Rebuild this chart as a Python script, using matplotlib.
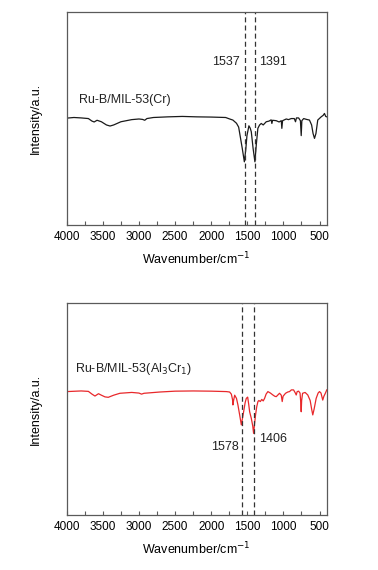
import matplotlib
matplotlib.use("Agg")
import matplotlib.pyplot as plt
from matplotlib.ticker import MultipleLocator

plt.rcParams['font.family'] = ['Liberation Sans', 'DejaVu Sans']

# Top spectrum: Ru-B/MIL-53(Cr)
wn_cr = [4000, 3900, 3800, 3700, 3650, 3620, 3580, 3520, 3450, 3400, 3350, 3250, 3100, 3000,
         2950, 2920, 2890, 2800, 2600, 2400, 2200, 2000, 1800, 1744, 1700, 1650, 1620, 1600,
         1570, 1541, 1520, 1505, 1478, 1460, 1445, 1420, 1395, 1375, 1354, 1330, 1307, 1280,
         1238, 1200, 1170, 1160, 1150, 1100, 1060, 1030, 1022, 1012, 961, 930, 892, 850, 833,
         820, 790, 765, 754, 745, 720, 680, 640, 610, 590, 570, 550, 525, 478, 450, 432, 415, 400]
int_cr = [0.502, 0.505, 0.503, 0.500, 0.488, 0.484, 0.492, 0.485, 0.470, 0.465, 0.470, 0.485,
          0.495, 0.498, 0.496, 0.492, 0.500, 0.505, 0.508, 0.510, 0.508, 0.507, 0.505, 0.498,
          0.493, 0.478, 0.460, 0.420, 0.360, 0.297, 0.360, 0.420, 0.466, 0.455, 0.438, 0.360,
          0.297, 0.380, 0.454, 0.470, 0.477, 0.470, 0.485, 0.488, 0.494, 0.477, 0.492, 0.490,
          0.484, 0.490, 0.454, 0.490, 0.498, 0.495, 0.500, 0.500, 0.485, 0.503, 0.503, 0.490,
          0.420, 0.490, 0.500, 0.496, 0.493, 0.470, 0.430, 0.407, 0.430, 0.493, 0.508, 0.515,
          0.524, 0.510, 0.508]

# Bottom spectrum: Ru-B/MIL-53(Al3Cr1)
wn_alcr = [4000, 3800, 3700, 3650, 3609, 3560, 3520, 3470, 3425, 3350, 3264, 3100, 3000, 2964,
           2930, 2711, 2500, 2250, 2000, 1790, 1745, 1721, 1705, 1699, 1690, 1675, 1650, 1630,
           1605, 1583, 1565, 1551, 1530, 1514, 1495, 1480, 1468, 1445, 1425, 1413, 1400, 1386,
           1370, 1353, 1340, 1320, 1300, 1280, 1261, 1240, 1215, 1180, 1146, 1120, 1100, 1080,
           1054, 1030, 1017, 1005, 971, 940, 916, 890, 860, 835, 823, 810, 790, 770, 760, 754,
           748, 735, 700, 663, 630, 610, 594, 575, 547, 520, 501, 480, 456, 440, 420, 400]
int_alcr = [0.582, 0.585, 0.583, 0.570, 0.561, 0.572, 0.565, 0.557, 0.555, 0.565, 0.574, 0.578,
            0.575, 0.570, 0.574, 0.580, 0.584, 0.585, 0.584, 0.582, 0.580, 0.570, 0.545, 0.519,
            0.540, 0.565, 0.550, 0.519, 0.470, 0.425, 0.460, 0.487, 0.530, 0.550, 0.556, 0.520,
            0.487, 0.456, 0.420, 0.385, 0.430, 0.472, 0.510, 0.535, 0.540, 0.535, 0.545, 0.538,
            0.550, 0.570, 0.582, 0.575, 0.566, 0.560, 0.558, 0.565, 0.574, 0.565, 0.535, 0.560,
            0.574, 0.580, 0.582, 0.590, 0.590, 0.575, 0.566, 0.582, 0.584, 0.575, 0.530, 0.487,
            0.540, 0.574, 0.578, 0.566, 0.540, 0.500, 0.472, 0.500, 0.550, 0.575, 0.582, 0.575,
            0.542, 0.560, 0.574, 0.590]

peaks_cr = [1537, 1391]
peaks_alcr = [1578, 1406]
xticks = [4000, 3500, 3000, 2500, 2000, 1500, 1000, 500]

fig = plt.figure(figsize=(3.78, 5.70), dpi=100)
ax1 = fig.add_axes([0.1765, 0.605, 0.688, 0.374])
ax2 = fig.add_axes([0.1765, 0.0965, 0.688, 0.372])

spine_color = '#5a5a5a'

def style(ax):
    ax.set_xlim(4000, 400)
    ax.set_ylim(0, 1)
    ax.set_xticks(xticks)
    ax.xaxis.set_minor_locator(MultipleLocator(250))
    ax.tick_params(axis='x', which='both', direction='in', length=3, width=0.8,
                   color=spine_color, labelsize=8.5, pad=4, top=False)
    ax.tick_params(axis='y', which='both', left=False, labelleft=False)
    for s in ax.spines.values():
        s.set_color(spine_color)
        s.set_linewidth(0.9)
    ax.set_xlabel('Wavenumber/cm$^{-1}$', fontsize=9, labelpad=6)
    ax.set_ylabel('Intensity/a.u.', fontsize=9, labelpad=18)

style(ax1)
style(ax2)

ax1.plot(wn_cr, int_cr, color='#1a1a1a', lw=0.9)
for p in peaks_cr:
    ax1.axvline(p, color='#333333', lw=0.9, ls=(0, (4, 2.5)))
ax1.text(1537 + 60, 0.765, '1537', fontsize=9, ha='right', va='center', color='#222222')
ax1.text(1391 - 60, 0.765, '1391', fontsize=9, ha='left', va='center', color='#222222')
ax1.text(3830, 0.585, 'Ru-B/MIL-53(Cr)', fontsize=9, ha='left', va='center', color='#222222')

ax2.plot(wn_alcr, int_alcr, color='#e8282b', lw=0.9)
for p in peaks_alcr:
    ax2.axvline(p, color='#333333', lw=0.9, ls=(0, (4, 2.5)))
ax2.text(1578 + 40, 0.32, '1578', fontsize=9, ha='right', va='center', color='#222222')
ax2.text(1406 - 70, 0.357, '1406', fontsize=9, ha='left', va='center', color='#222222')
ax2.text(3880, 0.69, 'Ru-B/MIL-53(Al$_3$Cr$_1$)', fontsize=9, ha='left', va='center', color='#222222')

fig.savefig('out.png', dpi=100, facecolor='white')
